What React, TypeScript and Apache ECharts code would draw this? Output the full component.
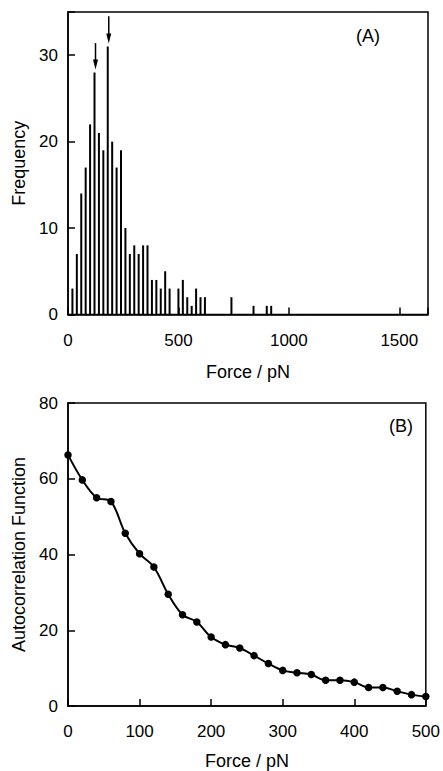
import React, { useEffect, useRef } from "react";
import * as echarts from "echarts";

// Panel A: histogram of rupture forces (20 pN bins)
const histForce = [20, 40, 60, 80, 100, 120, 140, 160, 180, 200, 220, 240, 260, 280, 300, 320, 340, 360, 380, 400, 420, 440, 460, 500, 520, 540, 560, 580, 600, 620, 740, 840, 900, 920];
const histFreq = [3, 7, 14, 17, 22, 28, 21, 19, 31, 20, 17, 19, 10, 7, 8, 7, 8, 8, 4, 4, 3, 5, 3, 3, 4, 2, 1, 3, 2, 2, 2, 1, 1, 1];
// arrows marking the two peaks
const arrowForce = [120, 180];
const arrowTail = [31.4, 34.5];

// Panel B: autocorrelation function
const acfForce = [0, 20, 40, 60, 80, 100, 120, 140, 160, 180, 200, 220, 240, 260, 280, 300, 320, 340, 360, 380, 400, 420, 440, 460, 480, 500];
const acfValue = [66.3, 59.7, 55.0, 54.0, 45.6, 40.2, 36.7, 29.5, 24.1, 22.2, 18.2, 16.2, 15.3, 13.3, 11.2, 9.4, 8.8, 8.3, 6.8, 6.8, 6.3, 4.9, 4.9, 3.9, 3.0, 2.5];

const FONT = '"Liberation Sans", Arial, Helvetica, sans-serif';

export default function App() {
  const ref = useRef<HTMLDivElement>(null);
  useEffect(() => {
    if (!ref.current) return;
    const chart = echarts.init(ref.current, undefined, { renderer: "svg" });
    const axisLine = { show: true, onZero: false, lineStyle: { color: "#000", width: 1.5 } };
    const tick = { show: true, inside: true, length: 7, lineStyle: { color: "#000", width: 1.5 } };
    const label = (step: number, maxShown: number, margin: number) => ({
      color: "#000",
      fontSize: 17,
      fontFamily: FONT,
      margin,
      formatter: (v: number) => (v % step === 0 && v <= maxShown ? String(v) : ""),
    });
    const nameStyle = { color: "#000", fontSize: 18, fontFamily: FONT };
    const freqByForce = (f: number) => histFreq[histForce.indexOf(f)];
    chart.setOption({
      animation: false,
      textStyle: { fontFamily: FONT },
      grid: [
        { left: 68, top: 12, width: 360, height: 302.5, show: true, borderColor: "#000", borderWidth: 1.5, backgroundColor: "transparent" },
        { left: 68, top: 403, width: 360, height: 304, show: true, borderColor: "#000", borderWidth: 1.5, backgroundColor: "transparent" },
      ],
      xAxis: [
        {
          type: "value", gridIndex: 0, min: 0, max: 1630, interval: 500,
          axisLine, axisTick: tick, axisLabel: label(500, 1500, 17), splitLine: { show: false },
          name: "Force / pN", nameLocation: "middle", nameGap: 48, nameTextStyle: nameStyle,
        },
        {
          type: "value", gridIndex: 1, min: 0, max: 500, interval: 100,
          axisLine, axisTick: tick, axisLabel: label(100, 500, 17), splitLine: { show: false },
          name: "Force / pN", nameLocation: "middle", nameGap: 46, nameTextStyle: nameStyle,
        },
      ],
      yAxis: [
        {
          type: "value", gridIndex: 0, min: 0, max: 35, interval: 10,
          axisLine, axisTick: tick, axisLabel: label(10, 30, 10), splitLine: { show: false },
          name: "Frequency", nameLocation: "middle", nameGap: 30, nameTextStyle: nameStyle,
        },
        {
          type: "value", gridIndex: 1, min: 0, max: 80, interval: 20,
          axisLine, axisTick: tick, axisLabel: label(20, 80, 10), splitLine: { show: false },
          name: "Autocorrelation Function", nameLocation: "middle", nameGap: 29, nameTextStyle: nameStyle,
        },
      ],
      series: [
        {
          type: "bar", xAxisIndex: 0, yAxisIndex: 0, barWidth: 2,
          itemStyle: { color: "#000" },
          data: histForce.map((f, i) => [f, histFreq[i]]),
        },
        {
          type: "custom", xAxisIndex: 0, yAxisIndex: 0, z: 5,
          data: arrowForce.map((f, i) => [f, arrowTail[i], freqByForce(f)]),
          renderItem: (params: any, api: any) => {
            const pTail = api.coord([api.value(0), api.value(1)]);
            const pBar = api.coord([api.value(0), api.value(2)]);
            const x = pTail[0] + 1;
            const tipY = pBar[1] - 3;
            const headLen = 10;
            const halfW = 2.5;
            return {
              type: "group",
              children: [
                { type: "line", shape: { x1: x, y1: pTail[1], x2: x, y2: tipY - headLen + 1 }, style: { stroke: "#000", lineWidth: 1.5 } },
                { type: "polygon", shape: { points: [[x - halfW, tipY - headLen], [x + halfW, tipY - headLen], [x, tipY]] }, style: { fill: "#000" } },
              ],
            };
          },
        },
        {
          type: "line", xAxisIndex: 1, yAxisIndex: 1, smooth: 0.35,
          symbol: "circle", symbolSize: 7.5,
          lineStyle: { color: "#000", width: 2 },
          itemStyle: { color: "#000" },
          data: acfForce.map((f, i) => [f, acfValue[i]]),
        },
      ],
      graphic: [
        { type: "text", x: 368, y: 36, style: { text: "(A)", font: `18px ${FONT}`, fill: "#000", align: "center", verticalAlign: "middle" } },
        { type: "text", x: 401, y: 426, style: { text: "(B)", font: `18px ${FONT}`, fill: "#000", align: "center", verticalAlign: "middle" } },
      ],
    });
    return () => chart.dispose();
  }, []);
  return <div ref={ref} style={{ position: "absolute", left: 0, top: 0, width: 443, height: 771, background: "#fff" }} />;
}
